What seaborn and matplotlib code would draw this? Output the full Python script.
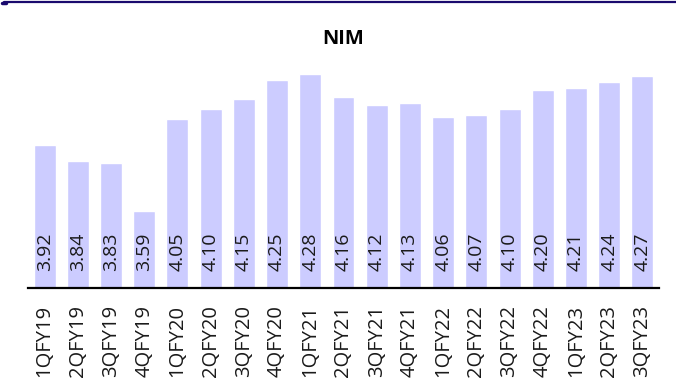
import matplotlib
matplotlib.use("Agg")
import matplotlib.pyplot as plt
from matplotlib.lines import Line2D
import seaborn as sns
import pandas as pd

quarters = ["1QFY19", "2QFY19", "3QFY19", "4QFY19",
            "1QFY20", "2QFY20", "3QFY20", "4QFY20",
            "1QFY21", "2QFY21", "3QFY21", "4QFY21",
            "1QFY22", "2QFY22", "3QFY22", "4QFY22",
            "1QFY23", "2QFY23", "3QFY23"]
nim = [3.92, 3.84, 3.83, 3.59,
       4.05, 4.10, 4.15, 4.25,
       4.28, 4.16, 4.12, 4.13,
       4.06, 4.07, 4.10, 4.20,
       4.21, 4.24, 4.27]

df = pd.DataFrame({"quarter": quarters, "nim": nim})

sns.set_style("white")
plt.rcParams["font.family"] = ["Open Sans", "DejaVu Sans"]

fig = plt.figure(figsize=(6.76, 3.8), dpi=100)
ax = fig.add_axes([28 / 676, 1 - 288 / 380, 631 / 676, 226 / 380])

sns.barplot(data=df, x="quarter", y="nim", color="#CCCCFF",
            saturation=1, width=0.66, ax=ax)

ymin = 3.2
ax.set_ylim(ymin, ymin + 226 / 198.5)
ax.set_xlim(-0.5, len(quarters) - 0.5)

# value labels written vertically near the foot of each bar
for i, v in enumerate(nim):
    ax.annotate(f"{v:.2f}", xy=(i, ymin), xytext=(0, 12),
                textcoords="offset points", rotation=90,
                ha="center", va="bottom", fontsize=14, color="#1a1a1a")

ax.set_xlabel("")
ax.set_ylabel("")
ax.set_yticks([])
ax.tick_params(axis="x", length=0, pad=12, labelsize=14.5,
               labelrotation=90, labelcolor="#1a1a1a")
for s in ["top", "left", "right"]:
    ax.spines[s].set_visible(False)
ax.spines["bottom"].set_color("black")
ax.spines["bottom"].set_linewidth(1.6)

fig.text(343 / 676, 1 - 39 / 380, "NIM", ha="center", va="center",
         fontsize=14.5, fontweight="bold", color="black")

# header rule across the top of the figure
fig.add_artist(Line2D([0.006, 1.0], [1 - 1.5 / 380] * 2,
                      transform=fig.transFigure, color="#1a0a6e", lw=1.6))
fig.add_artist(Line2D([0.003, 0.009], [1 - 2.5 / 380] * 2,
                      transform=fig.transFigure, color="#1a0a6e", lw=2.5))

fig.savefig("out.png", dpi=100)
